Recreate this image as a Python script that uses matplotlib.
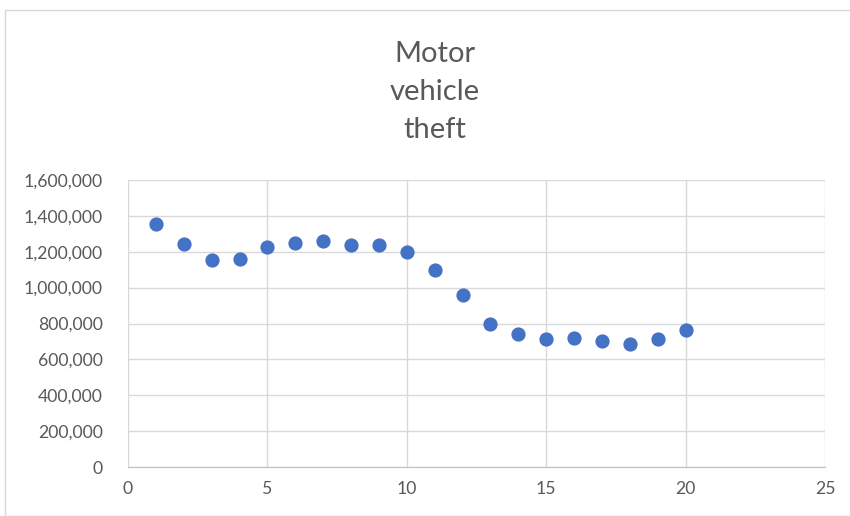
import numpy as np
import matplotlib
matplotlib.use('Agg')
import matplotlib.pyplot as plt
from matplotlib.patches import Rectangle
from matplotlib.ticker import FuncFormatter

# data
x_vals = list(range(1, 21))
thefts = [1354000, 1243000, 1154000, 1159000, 1228000, 1248000, 1261000,
          1239000, 1237000, 1198000, 1100000, 959000, 796000, 739000,
          715000, 720000, 702000, 685000, 711000, 765000]
x_ticks = [0, 5, 10, 15, 20, 25]
y_ticks = list(range(0, 1600001, 200000))

plt.rcParams['font.family'] = ['Lato', 'DejaVu Sans']
grey = '#595959'

fig = plt.figure(figsize=(8.5, 5.16), dpi=100)
fig.patches.append(Rectangle((5 / 850, 0), 1, 1 - 10 / 516, transform=fig.transFigure,
                             fill=False, edgecolor='#d9d9d9', linewidth=1))

ax = fig.add_axes([128 / 850, 49 / 516, 697 / 850, 287 / 516])
ax.scatter(x_vals, thefts, s=105, color='#4472C4', zorder=3, linewidths=0)

ax.set_xlim(0, 25)
ax.set_ylim(0, 1600000)
ax.set_xticks(x_ticks)
ax.set_yticks(y_ticks)
ax.yaxis.set_major_formatter(FuncFormatter(lambda v, p: '{:,.0f}'.format(v)))
ax.grid(True, color='#d9d9d9', linewidth=1)
ax.set_axisbelow(True)
for s in ['top', 'right', 'left']:
    ax.spines[s].set_visible(False)
ax.spines['bottom'].set_color('#bfbfbf')
ax.tick_params(length=0, labelsize=12.7, colors=grey, pad=10)
ax.tick_params(axis='y', pad=18)

fig.text(435 / 850, 1 - 92 / 516, 'Motor\nvehicle\ntheft', ha='center', va='center',
         fontsize=21, color=grey, linespacing=1.55)

fig.savefig('out.png', dpi=100)
